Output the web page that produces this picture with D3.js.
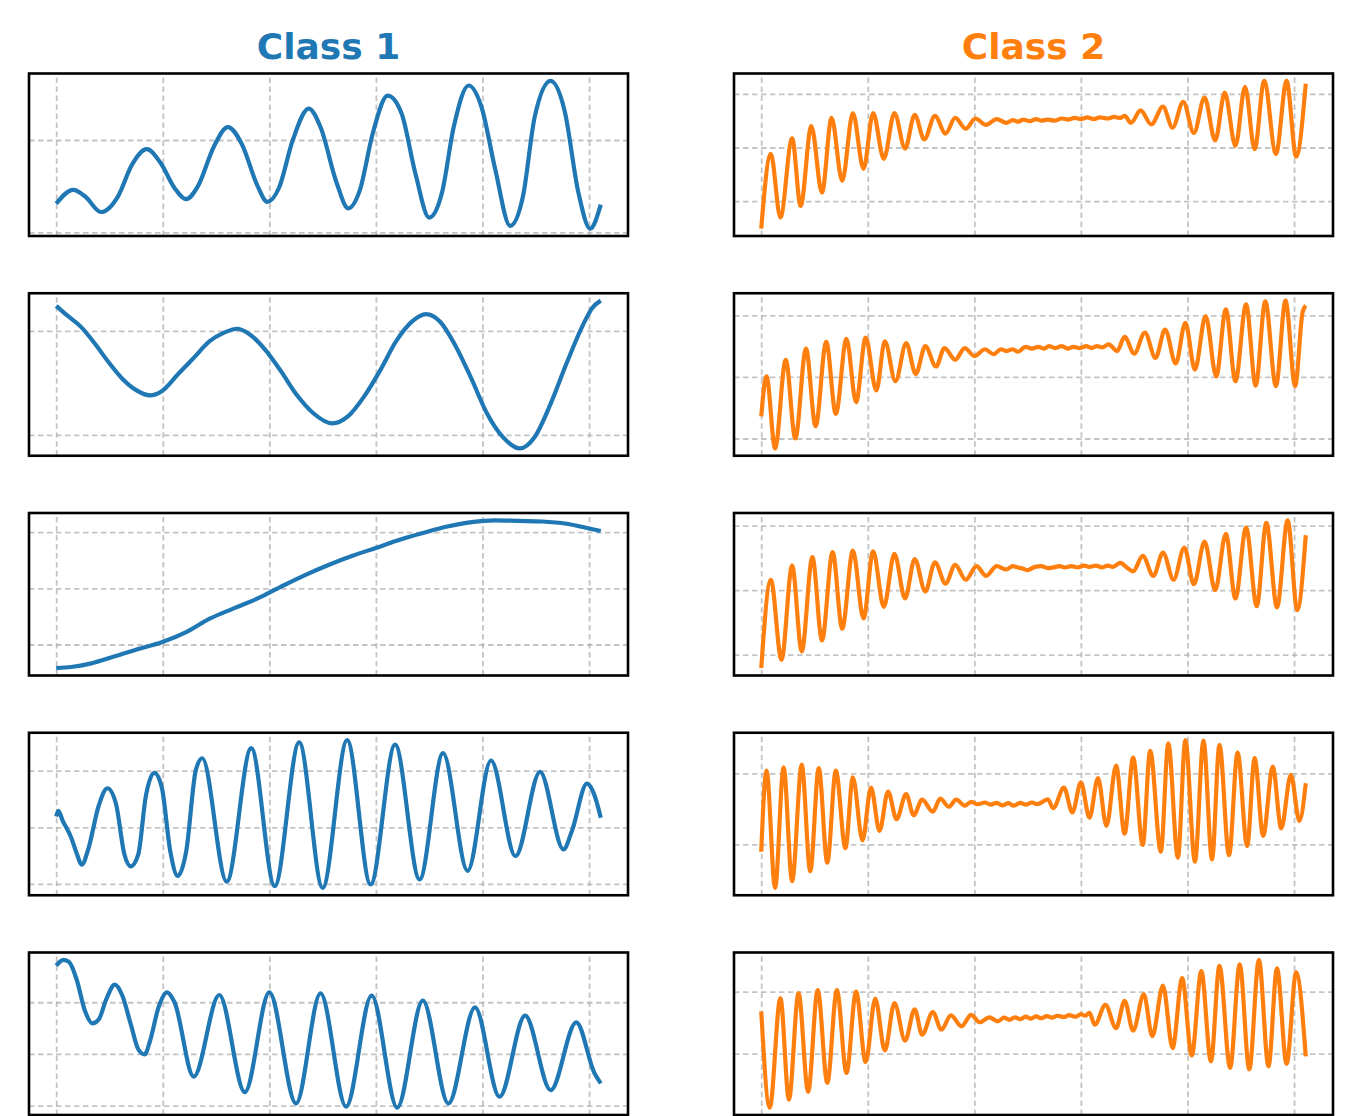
<!DOCTYPE html>
<html>
<head>
<meta charset="utf-8">
<script src="https://cdn.jsdelivr.net/npm/d3@7"></script>
<style>
  html, body { margin: 0; padding: 0; background: #ffffff; }
  svg { display: block; }
</style>
</head>
<body>
<div id="chart"></div>
<script>
// ---------------- DATA ----------------
const classNames = ["Class 1", "Class 2"];
const classColors = ["#1f77b4", "#ff7f0e"];
const xTicks = [0, 100, 200, 300, 400, 500];
const seriesLength = 512;

// [time index, value] pairs (extrema and shape points)
const class1Series1 = [[0,0.31],[16,0.46],[27,0.39],[42,0.22],[58,0.39],[71,0.73],[85,0.90],[98,0.75],[111,0.48],[122,0.36],[133,0.50],[148,0.93],[161,1.14],[174,0.96],[189,0.50],[198,0.33],[209,0.48],[222,1.00],[237,1.34],[248,1.14],[263,0.54],[274,0.26],[285,0.46],[297,1.07],[311,1.48],[324,1.29],[337,0.64],[350,0.16],[362,0.43],[373,1.14],[387,1.59],[399,1.36],[412,0.68],[426,0.07],[438,0.39],[449,1.25],[464,1.64],[477,1.32],[490,0.43],[501,0.04],[511,0.30]];
const class1Series2 = [[0,1.24],[10,1.15],[23,1.04],[36,0.88],[49,0.70],[62,0.54],[75,0.43],[88,0.38],[99,0.42],[114,0.58],[129,0.74],[144,0.90],[157,0.98],[170,1.02],[181,0.97],[196,0.82],[211,0.61],[226,0.38],[241,0.21],[259,0.11],[274,0.18],[289,0.37],[304,0.62],[319,0.90],[334,1.09],[347,1.16],[360,1.09],[375,0.85],[390,0.53],[404,0.21],[419,-0.02],[435,-0.13],[449,-0.02],[464,0.30],[479,0.69],[494,1.05],[503,1.22],[511,1.29]];
const class1Series3 = [[0,-1.42],[14,-1.40],[32,-1.34],[55,-1.21],[77,-1.08],[99,-0.96],[122,-0.78],[144,-0.54],[166,-0.36],[189,-0.18],[211,0.03],[234,0.24],[256,0.42],[278,0.58],[300,0.72],[323,0.87],[345,0.99],[367,1.10],[390,1.18],[412,1.21],[434,1.20],[456,1.19],[479,1.15],[497,1.08],[511,1.02]];
const class1Series4 = [[0,0.19],[2,0.29],[6,0.12],[14,-0.18],[19,-0.45],[24,-0.66],[30,-0.39],[40,0.39],[48,0.69],[56,0.42],[64,-0.48],[70,-0.69],[77,-0.48],[84,0.54],[92,0.96],[99,0.71],[107,-0.42],[114,-0.86],[122,-0.42],[131,1.01],[137,1.22],[160,-0.96],[183,1.40],[205,-1.04],[228,1.50],[250,-1.07],[273,1.54],[295,-1.01],[318,1.46],[341,-0.92],[363,1.31],[386,-0.77],[408,1.18],[431,-0.51],[454,0.98],[476,-0.39],[484,-0.06],[498,0.77],[505,0.57],[511,0.17]];
const class1Series5 = [[0,1.71],[7,1.82],[12,1.78],[19,1.45],[27,0.83],[34,0.59],[40,0.67],[47,1.06],[55,1.34],[62,1.13],[70,0.57],[77,0.09],[83,-0.01],[88,0.25],[96,0.90],[104,1.19],[111,1.00],[129,-0.44],[153,1.14],[177,-0.74],[200,1.19],[225,-0.96],[248,1.17],[272,-1.02],[296,1.13],[320,-1.04],[344,1.03],[368,-0.96],[393,0.90],[416,-0.83],[440,0.74],[464,-0.70],[488,0.61],[505,-0.37],[511,-0.57]];

const class2Series1 = [[0,-1.51],[9,-0.12],[18,-1.30],[29,0.17],[37,-1.09],[47,0.40],[57,-0.84],[66,0.55],[76,-0.62],[86,0.64],[96,-0.40],[105,0.64],[115,-0.21],[125,0.64],[135,-0.02],[144,0.61],[153,0.15],[163,0.59],[173,0.26],[182,0.55],[192,0.35],[201,0.54],[211,0.42],[221,0.53],[230,0.46],[236,0.51],[241,0.48],[246,0.52],[252,0.49],[258,0.53],[263,0.50],[269,0.52],[275,0.50],[282,0.54],[288,0.52],[294,0.55],[300,0.53],[306,0.56],[312,0.53],[318,0.56],[325,0.54],[331,0.57],[337,0.55],[341,0.59],[347,0.46],[356,0.69],[366,0.43],[377,0.76],[386,0.37],[396,0.85],[406,0.27],[416,0.93],[426,0.13],[435,1.02],[445,0.03],[454,1.13],[463,-0.03],[472,1.24],[483,-0.12],[493,1.24],[502,-0.17],[511,1.19]];
const class2Series2 = [[0,-0.64],[5,0.01],[13,-1.16],[23,0.28],[32,-1.00],[42,0.46],[51,-0.80],[61,0.57],[70,-0.60],[80,0.62],[89,-0.41],[98,0.64],[108,-0.22],[116,0.58],[126,-0.07],[136,0.55],[145,0.05],[154,0.50],[164,0.17],[172,0.47],[182,0.28],[191,0.47],[200,0.34],[210,0.45],[218,0.37],[225,0.45],[230,0.42],[236,0.45],[241,0.41],[248,0.49],[254,0.46],[260,0.49],[265,0.46],[270,0.50],[276,0.47],[282,0.50],[288,0.46],[293,0.49],[299,0.47],[305,0.50],[310,0.47],[315,0.50],[320,0.48],[326,0.53],[334,0.42],[341,0.65],[350,0.38],[360,0.72],[370,0.31],[379,0.77],[389,0.22],[398,0.88],[407,0.12],[417,0.99],[427,0.01],[436,1.10],[445,-0.07],[455,1.18],[464,-0.14],[473,1.23],[483,-0.15],[492,1.24],[501,-0.15],[508,1.05],[511,1.16]];
const class2Series3 = [[0,-1.21],[9,0.16],[19,-1.08],[29,0.38],[38,-0.95],[48,0.51],[57,-0.78],[67,0.59],[76,-0.60],[86,0.61],[96,-0.44],[105,0.60],[115,-0.26],[125,0.56],[135,-0.13],[144,0.48],[154,-0.02],[163,0.43],[173,0.10],[182,0.39],[192,0.16],[202,0.37],[211,0.22],[221,0.37],[230,0.32],[236,0.37],[241,0.35],[246,0.33],[250,0.31],[257,0.36],[263,0.37],[269,0.34],[274,0.35],[280,0.37],[285,0.35],[291,0.37],[297,0.35],[303,0.38],[308,0.36],[314,0.38],[320,0.35],[325,0.38],[330,0.36],[337,0.42],[343,0.35],[349,0.29],[358,0.53],[368,0.22],[377,0.58],[387,0.16],[397,0.66],[406,0.09],[416,0.75],[426,0.00],[436,0.87],[445,-0.13],[455,0.97],[465,-0.25],[474,1.04],[484,-0.27],[494,1.08],[503,-0.31],[511,0.85]];
const class2Series4 = [[0,-1.21],[5,1.08],[13,-2.23],[21,1.17],[29,-2.04],[38,1.25],[46,-1.76],[54,1.15],[62,-1.52],[70,1.08],[79,-1.11],[86,0.89],[95,-0.89],[103,0.60],[111,-0.62],[119,0.49],[127,-0.29],[136,0.42],[143,-0.18],[151,0.26],[161,-0.08],[168,0.29],[176,0.06],[183,0.26],[191,0.09],[197,0.20],[203,0.13],[210,0.18],[215,0.12],[221,0.17],[226,0.10],[232,0.16],[237,0.09],[243,0.17],[248,0.12],[254,0.18],[259,0.13],[263,0.18],[269,0.27],[274,0.02],[284,0.60],[292,-0.10],[300,0.75],[308,-0.25],[316,0.87],[324,-0.48],[333,1.22],[341,-0.70],[349,1.45],[358,-1.02],[365,1.64],[375,-1.21],[382,1.85],[391,-1.38],[398,1.94],[407,-1.49],[415,1.93],[423,-1.43],[430,1.81],[439,-1.31],[447,1.59],[456,-1.05],[463,1.43],[471,-0.76],[480,1.19],[488,-0.55],[497,0.96],[505,-0.34],[511,0.72]];
const class2Series5 = [[0,0.36],[8,-2.74],[18,0.79],[26,-2.48],[35,0.95],[44,-2.23],[53,1.05],[62,-1.94],[71,1.05],[80,-1.62],[89,1.00],[98,-1.27],[107,0.77],[116,-0.90],[125,0.63],[135,-0.58],[144,0.43],[151,-0.39],[161,0.34],[169,-0.23],[178,0.23],[188,-0.12],[197,0.25],[205,0.01],[214,0.17],[222,0.04],[228,0.16],[233,0.09],[238,0.17],[243,0.11],[248,0.19],[253,0.13],[258,0.20],[263,0.14],[268,0.21],[273,0.16],[278,0.22],[284,0.18],[289,0.24],[295,0.19],[300,0.27],[304,0.22],[308,0.31],[313,-0.07],[323,0.57],[333,-0.18],[341,0.70],[349,-0.26],[359,0.91],[367,-0.44],[377,1.19],[386,-0.82],[395,1.43],[404,-1.06],[413,1.66],[422,-1.25],[430,1.83],[440,-1.46],[449,1.88],[458,-1.51],[467,2.02],[476,-1.41],[484,1.75],[493,-1.33],[502,1.62],[511,-1.09]];

const class1Series = [class1Series1, class1Series2, class1Series3, class1Series4, class1Series5];
const class2Series = [class2Series1, class2Series2, class2Series3, class2Series4, class2Series5];

const class1YTicks = [[0,1],[0,1],[-1,0,1],[-1,0,1],[-1,0,1]];
const class2YTicks = [[-1,0,1],[-1,0,1],[-1,0,1],[-1,1],[-1,1]];

// ---------------- LAYOUT ----------------
const W = 1362, H = 1116;
const colX = [29, 734];
const panelW = 599;
const rowY0 = 73.5, rowStep = 219.75, panelH = 162.5;

const svg = d3.select("#chart").append("svg")
  .attr("width", W).attr("height", H)
  .attr("viewBox", `0 0 ${W} ${H}`);

const columns = [class1Series, class2Series];
const yTickSets = [class1YTicks, class2YTicks];

// titles
classNames.forEach((name, c) => {
  svg.append("text")
    .attr("x", colX[c] + panelW / 2)
    .attr("y", 59)
    .attr("text-anchor", "middle")
    .attr("font-family", "DejaVu Sans, sans-serif")
    .attr("font-weight", "bold")
    .attr("font-size", 36)
    .attr("fill", classColors[c])
    .text(name);
});

const xPad = (seriesLength - 1) * 0.05;

columns.forEach((seriesList, c) => {
  seriesList.forEach((series, r) => {
    const x0 = colX[c];
    const y0 = rowY0 + r * rowStep;
    const g = svg.append("g").attr("transform", `translate(${x0},${y0})`);

    const x = d3.scaleLinear()
      .domain([-xPad, (seriesLength - 1) + xPad])
      .range([0, panelW]);

    const ext = d3.extent(series, d => d[1]);
    const yPad = (ext[1] - ext[0]) * 0.05;
    const y = d3.scaleLinear()
      .domain([ext[0] - yPad, ext[1] + yPad])
      .range([panelH, 0]);

    const clipId = `clip-${c}-${r}`;
    g.append("clipPath").attr("id", clipId)
      .append("rect").attr("width", panelW).attr("height", panelH);

    // grid via axes
    const gx = g.append("g")
      .attr("transform", `translate(0,${panelH})`)
      .call(d3.axisBottom(x).tickValues(xTicks).tickSize(-panelH).tickFormat(""));
    const gy = g.append("g")
      .call(d3.axisLeft(y).tickValues(yTickSets[c][r]).tickSize(-panelW).tickFormat(""));
    [gx, gy].forEach(ax => {
      ax.select(".domain").remove();
      ax.selectAll(".tick line")
        .attr("stroke", "#b0b0b0")
        .attr("stroke-opacity", 0.75)
        .attr("stroke-width", 1.8)
        .attr("stroke-dasharray", "5.5,3.5");
    });

    const line = d3.line()
      .x(d => x(d[0]))
      .y(d => y(d[1]))
      .curve(d3.curveMonotoneX);

    g.append("path")
      .datum(series)
      .attr("clip-path", `url(#${clipId})`)
      .attr("fill", "none")
      .attr("stroke", classColors[c])
      .attr("stroke-width", 4.2)
      .attr("stroke-linejoin", "round")
      .attr("stroke-linecap", "butt")
      .attr("d", line);

    g.append("rect")
      .attr("width", panelW).attr("height", panelH)
      .attr("fill", "none")
      .attr("stroke", "#000000")
      .attr("stroke-width", 2.6);
  });
});
</script>
</body>
</html>
